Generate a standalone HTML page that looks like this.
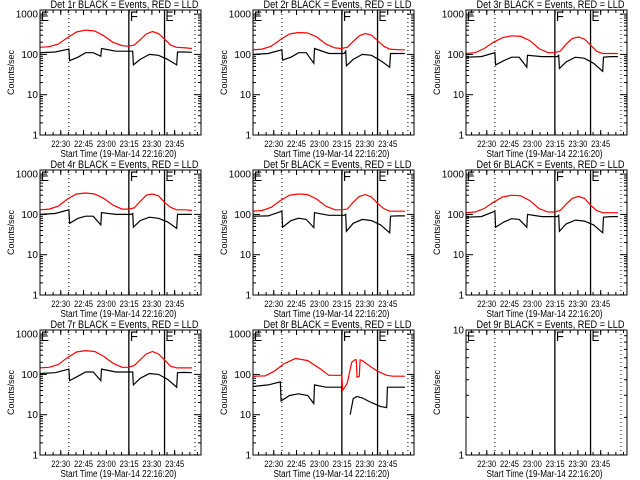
<!DOCTYPE html>
<html><head><meta charset="utf-8"><style>
html,body{margin:0;padding:0;background:#fff}
svg{display:block}
text{font-family:"Liberation Sans",sans-serif;fill:#000}
</style></head><body>
<svg id="chart" width="640" height="480" viewBox="0 0 640 480" xmlns="http://www.w3.org/2000/svg"></svg>
<script>
// Times in minutes since 22:16:20
const xTickLabels = ["22:30","22:45","23:00","23:15","23:30","23:45"];
const xTickMinutes = [13.67,28.67,43.67,58.67,73.67,88.67];
const dottedMinutes = [19,102];
const solidMinutes = [58.5,82];
const markerLabels = ["E","F","E"];
const markerMinutes = [0,58.5,82];
const redTimes = [0,6,12,18,24,30,36,42,48,54,58,62,66,70,74,78,82,86,90,96,100];
const blackTimes = [0,10,19,19.5,25,30,35,40,40.5,50,60,61,61.5,66,72,78,84,90,90.5,95,100];
const red1 = [150,155,180,260,360,400,380,290,200,165,160,170,230,320,370,330,240,170,150,145,140];
const black1 = [110,115,135,70,85,110,110,90,140,120,120,120,55,75,100,95,75,55,115,115,113];
const red2 = [130,135,160,230,320,350,340,270,180,145,140,150,210,290,330,300,220,160,135,130,130];
const black2 = [100,105,130,72,85,110,110,60,140,105,105,120,52,75,100,95,70,48,105,105,105];
const red3 = [105,110,140,200,260,290,280,220,140,110,110,120,180,250,270,240,170,120,105,105,105];
const black3 = [85,88,110,55,70,85,85,48,95,88,88,95,45,65,85,80,60,38,85,88,88];
const red4 = [130,135,160,240,320,340,320,250,170,135,135,145,210,300,320,290,200,150,130,130,125];
const black4 = [100,105,130,60,80,90,90,55,110,100,100,105,48,70,85,80,65,45,100,100,100];
const red5 = [120,125,150,220,300,320,310,240,160,130,130,135,200,280,310,270,190,140,120,120,120];
const black5 = [90,92,120,48,70,80,75,47,110,95,95,100,38,60,75,70,55,35,90,92,92];
const red6 = [110,115,140,200,270,300,290,220,140,115,115,125,180,250,280,250,170,125,110,110,110];
const black6 = [85,88,120,48,65,78,75,48,100,88,88,95,38,58,72,68,55,35,85,88,88];
const red7 = [145,150,175,260,360,390,370,280,190,150,150,165,230,320,370,320,230,160,145,145,145];
const black7 = [105,110,135,70,90,115,115,70,135,115,115,115,55,80,105,100,75,48,110,112,110];
const red8Times = [0,8,14,20,28,36,44,50,56,58.5,59,62,65,67,68,68.5,70,70.5,72,76,82,88,92,100];
const red8 = [90,92,120,180,250,220,140,95,95,95,40,60,200,230,230,85,90,230,220,170,120,95,90,90];
const black8Times = [0,10,18,18.5,24,30,36,40,40.5,48,58.5,59,64,66,68,69,72,78,84,88,88.5,95,100];
const black8 = [50,55,65,22,30,33,30,19,55,48,48,null,10,25,28,28,26,20,16,15,48,48,48];

const panels = [
 {det:1,rt:redTimes,r:red1,bt:blackTimes,b:black1},
 {det:2,rt:redTimes,r:red2,bt:blackTimes,b:black2},
 {det:3,rt:redTimes,r:red3,bt:blackTimes,b:black3},
 {det:4,rt:redTimes,r:red4,bt:blackTimes,b:black4},
 {det:5,rt:redTimes,r:red5,bt:blackTimes,b:black5},
 {det:6,rt:redTimes,r:red6,bt:blackTimes,b:black6},
 {det:7,rt:redTimes,r:red7,bt:blackTimes,b:black7},
 {det:8,rt:red8Times,r:red8,bt:black8Times,b:black8},
 {det:9,rt:[],r:[],bt:[],b:[],small:true}
];
const NS="http://www.w3.org/2000/svg";
const svg=document.getElementById('chart');
function mk(tag,attrs,parent){const e=document.createElementNS(NS,tag);for(const k in attrs)e.setAttribute(k,attrs[k]);(parent||svg).appendChild(e);return e;}
const T_MAX=106;
panels.forEach((p,i)=>{
  const col=i%3,row=Math.floor(i/3);
  const x0=40+col*213, x1=x0+161, yTop=10+row*160, yBot=yTop+125;
  const g=mk('g',{});
  
  
  const xs=t=>x0+(t/T_MAX)*(x1-x0);
  let ys, decades;
  if(p.small){ ys=v=>yBot-Math.log10(v)*(yBot-yTop); decades=[1,10]; }
  else { ys=v=>yBot-Math.log10(v)*40.3; decades=[1,10,100,1000]; }
  const ti=mk('text',{x:(x0+x1)/2+4,y:yTop-2,'font-size':11,'text-anchor':'middle',textLength:148,lengthAdjust:'spacingAndGlyphs'},g);
  ti.textContent='Det '+p.det+'r BLACK = Events, RED = LLD';
  
  
  const yt=mk('text',{x:0,y:0,'font-size':9,'text-anchor':'middle',transform:`translate(${x0-26},${(yTop+yBot)/2}) rotate(-90)`},g);
  yt.textContent='Counts/sec';
  
  
  decades.forEach((d,k)=>{
    const y=ys(d);
    mk('line',{x1:x0,x2:x0+7,y1:y,y2:y,stroke:'#000'},g);
    mk('line',{x1:x1-7,x2:x1,y1:y,y2:y,stroke:'#000'},g);
    const lb=mk('text',{x:x0-2,y:y+3.5,'font-size':10,'text-anchor':'end'},g);
    lb.textContent=String(d);
    
    
    if(k<decades.length-1){for(let m=2;m<=9;m++){const ym=ys(d*m);if(ym<yTop)continue;
      mk('line',{x1:x0,x2:x0+3,y1:ym,y2:ym,stroke:'#000'},g);
      mk('line',{x1:x1-3,x2:x1,y1:ym,y2:ym,stroke:'#000'},g);}}
  });
  xTickMinutes.forEach((t,k)=>{
    const x=xs(t);
    mk('line',{x1:x,x2:x,y1:yBot,y2:yBot-5,stroke:'#000'},g);
    mk('line',{x1:x,x2:x,y1:yTop,y2:yTop+5,stroke:'#000'},g);
    const lb=mk('text',{x:x-9.5,y:yBot+12,'font-size':9.5,textLength:19,lengthAdjust:'spacingAndGlyphs'},g);
    lb.textContent=xTickLabels[k];
    
    
  });
  for(let t=3.67;t<T_MAX;t+=5){const x=xs(t);
    mk('line',{x1:x,x2:x,y1:yBot,y2:yBot-3,stroke:'#000'},g);
    mk('line',{x1:x,x2:x,y1:yTop,y2:yTop+3,stroke:'#000'},g);}
  const xl=mk('text',{x:(x0+x1)/2-2,y:yBot+22,'font-size':10,'text-anchor':'middle',textLength:116,lengthAdjust:'spacingAndGlyphs'},g);
  xl.textContent='Start Time (19-Mar-14 22:16:20)';
  
  
  dottedMinutes.forEach(t=>{const x=xs(t);mk('line',{x1:x,x2:x,y1:yTop,y2:yBot,stroke:'#000','stroke-dasharray':'1,3'},g);});
  solidMinutes.forEach(t=>{const x=xs(t);mk('line',{x1:x,x2:x,y1:yTop,y2:yBot,stroke:'#000','stroke-width':1.3},g);});
  markerLabels.forEach((s,k)=>{const m=mk('text',{x:xs(markerMinutes[k])+1,y:yTop+11,'font-size':14,textLength:8,lengthAdjust:'spacingAndGlyphs'},g);m.textContent=s;
    
    });
  function draw(ts,vs,color,name){
    let d='',pen=false;
    ts.forEach((t,k)=>{const v=vs[k];if(v==null){pen=false;return;}
      d+=(pen?'L':'M')+xs(t).toFixed(1)+','+ys(v).toFixed(1);pen=true;});
    if(!d)return;
    const pa=mk('path',{d:d,fill:'none',stroke:color,'stroke-width':1.2},g);
    
    
  }
  draw(p.rt,p.r,'#ff0000','lld-series');
  draw(p.bt,p.b,'#000000','events-series');
  mk('rect',{x:x0,y:yTop,width:x1-x0,height:yBot-yTop,fill:'none',stroke:'#000'},g);
});
</script>
</body></html>
